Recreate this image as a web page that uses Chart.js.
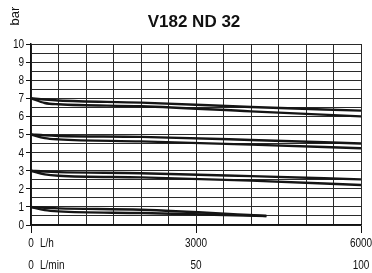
<!DOCTYPE html>
<html lang="en">
<head>
<meta charset="UTF-8">
<title>V182 ND 32</title>
<script src="https://cdn.jsdelivr.net/npm/chart.js@4.4.0/dist/chart.umd.min.js"></script>
<style>
  html, body { margin: 0; padding: 0; background: #fff; }
  #wrap { width: 372px; height: 273px; }
</style>
</head>
<body>
<div id="wrap"><canvas id="chartJSContainer"></canvas></div>
<script>
// flow in L/h where the curves were read
var flowPts = [0, 250, 500, 2000, 4000, 6000];
var flowPtsShort = [0, 250, 500, 2000, 4280];

// pressure (bar), upper / lower curve of each pair
var p7upper = [7, 6.93, 6.88, 6.76, 6.52, 6.32];
var p7lower = [7, 6.74, 6.67, 6.56, 6.28, 6.0];
var p5upper = [5, 4.95, 4.92, 4.87, 4.70, 4.50];
var p5lower = [5, 4.80, 4.73, 4.62, 4.44, 4.24];
var p3upper = [3, 2.95, 2.92, 2.86, 2.70, 2.52];
var p3lower = [3, 2.80, 2.72, 2.63, 2.45, 2.21];
var p1upper = [1, 0.95, 0.92, 0.84, 0.50];
var p1lower = [1, 0.82, 0.75, 0.66, 0.50];

// tick labels
var yTickValues = [0, 1, 2, 3, 4, 5, 6, 7, 8, 9, 10];
var xTickValues = [0, 3000, 6000];
var xLabelsLh = ['0', '3000', '6000'];
var xLabelsLmin = ['0', '50', '100'];

var FONT = "'Liberation Sans', Arial, sans-serif";
var NARROW = 0.8; // the original uses a condensed face

function pts(xs, ys) {
  return xs.map(function(x, i) { return {x: x, y: ys[i]}; });
}

function curve(xs, ys) {
  return {
    data: pts(xs, ys),
    borderColor: '#151515',
    borderWidth: 2.4,
    pointRadius: 0,
    fill: false,
    cubicInterpolationMode: 'monotone'
  };
}

// draw text squeezed horizontally
function narrowText(c, txt, x, y, align) {
  c.save();
  c.translate(x, y);
  c.scale(NARROW, 1);
  c.textAlign = align;
  c.fillText(txt, 0, 0);
  c.restore();
}

var extras = {
  id: 'extras',
  afterDraw: function(chart) {
    var c = chart.ctx;
    var xs = chart.scales.x, ys = chart.scales.y;
    c.save();
    c.fillStyle = '#111';
    // title
    c.font = "bold 17px " + FONT;
    c.textAlign = 'center';
    c.textBaseline = 'middle';
    c.fillText('V182 ND 32', 194, 22);
    // unit on y axis
    c.save();
    c.font = '13px ' + FONT;
    c.translate(15, 16);
    c.rotate(-Math.PI / 2);
    c.fillText('bar', 0, 0);
    c.restore();

    c.font = '12.5px ' + FONT;
    c.textBaseline = 'middle';
    yTickValues.forEach(function(v) {
      narrowText(c, String(v), 24, ys.getPixelForValue(v) + 0.5, 'right');
    });
    xTickValues.forEach(function(v, i) {
      var px = xs.getPixelForValue(v);
      narrowText(c, xLabelsLh[i], px, 244, 'center');
      narrowText(c, xLabelsLmin[i], px, 266, 'center');
    });
    var p0 = xs.getPixelForValue(0);
    narrowText(c, 'L/h', p0 + 9, 244, 'left');
    narrowText(c, 'L/min', p0 + 9, 266, 'left');
    c.restore();
  }
};

var options = {
  type: 'line',
  data: {
    datasets: [
      curve(flowPts, p7upper), curve(flowPts, p7lower),
      curve(flowPts, p5upper), curve(flowPts, p5lower),
      curve(flowPts, p3upper), curve(flowPts, p3lower),
      curve(flowPtsShort, p1upper), curve(flowPtsShort, p1lower)
    ]
  },
  options: {
    responsive: true,
    maintainAspectRatio: false,
    animation: false,
    layout: { padding: { top: 44, right: 11, left: 0, bottom: 0 } },
    plugins: { legend: { display: false }, tooltip: { enabled: false } },
    scales: {
      x: {
        type: 'linear',
        min: 0, max: 6000,
        ticks: { stepSize: 500, display: false, autoSkip: false },
        grid: {
          color: '#2a2a2a', lineWidth: 1, tickLength: 8,
          tickColor: function(ctx) {
            return ctx.tick && ctx.tick.value % 3000 === 0 ? '#111' : 'rgba(0,0,0,0)';
          }
        },
        border: { color: '#111', width: 1.5 },
        afterFit: function(s) { s.height = 48; s.paddingLeft = 0; s.paddingRight = 0; }
      },
      y: {
        min: 0, max: 10,
        ticks: { stepSize: 0.5, autoSkip: false, display: false },
        grid: {
          color: '#2a2a2a', lineWidth: 1, tickLength: 5,
          tickColor: function(ctx) {
            return ctx.tick && ctx.tick.value % 1 === 0 ? '#111' : 'rgba(0,0,0,0)';
          }
        },
        border: { color: '#111', width: 1.5 },
        afterFit: function(s) { s.width = 31; }
      }
    }
  },
  plugins: [extras]
};

var ctx = document.getElementById('chartJSContainer').getContext('2d');
window.test = new Chart(ctx, options);
</script>
</body>
</html>
